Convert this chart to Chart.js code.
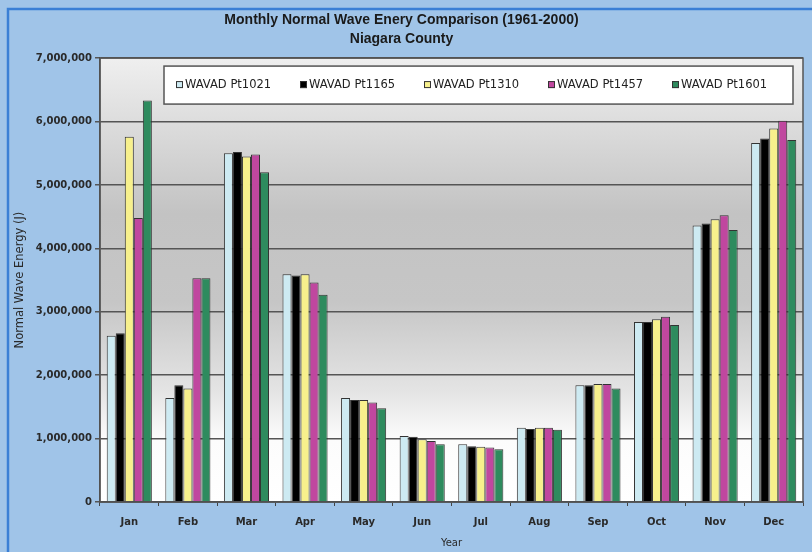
<!DOCTYPE html>
<html>
<head>
<meta charset="utf-8">
<script src="https://cdn.jsdelivr.net/npm/chart.js@4.4.1/dist/chart.umd.min.js"></script>
<style>
  html, body { margin: 0; padding: 0; background: #a0c4e8; }
  #wrap { width: 812px; height: 552px; }
</style>
</head>
<body>
<div id="wrap"><canvas id="waveChart" width="812" height="552"></canvas></div>
<script>
const months = ['Jan', 'Feb', 'Mar', 'Apr', 'May', 'Jun', 'Jul', 'Aug', 'Sep', 'Oct', 'Nov', 'Dec'];
const seriesNames = ['WAVAD Pt1021', 'WAVAD Pt1165', 'WAVAD Pt1310', 'WAVAD Pt1457', 'WAVAD Pt1601'];
const pt1021 = [2620000, 1640000, 5500000, 3590000, 1640000, 1040000, 910000, 1170000, 1840000, 2840000, 4360000, 5660000];
const pt1165 = [2660000, 1840000, 5520000, 3570000, 1610000, 1030000, 880000, 1150000, 1840000, 2840000, 4390000, 5730000];
const pt1310 = [5760000, 1790000, 5450000, 3590000, 1610000, 990000, 870000, 1170000, 1860000, 2880000, 4460000, 5890000];
const pt1457 = [4480000, 3530000, 5480000, 3460000, 1570000, 960000, 860000, 1170000, 1860000, 2920000, 4520000, 6010000];
const pt1601 = [6330000, 3530000, 5200000, 3270000, 1480000, 910000, 830000, 1140000, 1790000, 2790000, 4290000, 5710000];
const yMin = 0, yMax = 7000000, yStep = 1000000;

const colors = ['#cdeaf2', '#000000', '#f7f08c', '#c0479f', '#2e8b5e'];
const allSeries = [pt1021, pt1165, pt1310, pt1457, pt1601];

// panel background, frame, plot-area gradient
const panel = {
  id: 'panel',
  beforeDraw(chart) {
    const { ctx, chartArea: a, width, height } = chart;
    ctx.save();
    ctx.fillStyle = '#a0c4e8';
    ctx.fillRect(0, 0, width, height);
    ctx.strokeStyle = '#3a7fd5';
    ctx.lineWidth = 2.5;
    ctx.strokeRect(8, 9, width + 20, height + 20);
    const g = ctx.createLinearGradient(0, a.top, 0, a.bottom);
    g.addColorStop(0, '#efefef');
    g.addColorStop(0.35, '#c3c3c3');
    g.addColorStop(0.55, '#c6c6c6');
    g.addColorStop(0.75, '#e4e4e4');
    g.addColorStop(0.86, '#fcfcfc');
    g.addColorStop(1, '#ffffff');
    ctx.fillStyle = g;
    ctx.fillRect(a.left, a.top, a.right - a.left, a.bottom - a.top);
    ctx.restore();
  },
  afterDatasetsDraw(chart) {
    const { ctx, chartArea: a } = chart;
    ctx.save();
    ctx.strokeStyle = '#555';
    ctx.lineWidth = 1.5;
    ctx.strokeRect(a.left, a.top, a.right - a.left, a.bottom - a.top);
    ctx.restore();
  }
};

// Excel-style legend box sitting inside the plot area
const legendBox = {
  id: 'legendBox',
  afterDraw(chart) {
    const { ctx, chartArea: a } = chart;
    const x0 = a.left + 64, y0 = a.top + 8, w = a.right - a.left - 74, h = 38;
    ctx.save();
    ctx.fillStyle = '#ffffff';
    ctx.fillRect(x0, y0, w, h);
    ctx.strokeStyle = '#555';
    ctx.lineWidth = 1.5;
    ctx.strokeRect(x0, y0, w, h);
    ctx.font = '11.5px "DejaVu Sans", sans-serif';
    ctx.textBaseline = 'middle';
    const cy = y0 + h / 2;
    chart.data.datasets.forEach((ds, i) => {
      const bx = x0 + 12 + i * 124;
      ctx.fillStyle = ds.backgroundColor;
      ctx.fillRect(bx, cy - 4, 7, 7);
      ctx.strokeStyle = '#333';
      ctx.lineWidth = 1;
      ctx.strokeRect(bx + 0.5, cy - 3.5, 6, 6);
      ctx.fillStyle = '#222';
      ctx.fillText(ds.label, bx + 9, cy);
    });
    ctx.restore();
  }
};

const ctx = document.getElementById('waveChart').getContext('2d');
const chart = new Chart(ctx, {
  type: 'bar',
  data: {
    labels: months,
    datasets: seriesNames.map((name, i) => ({
      label: name,
      data: allSeries[i],
      backgroundColor: colors[i],
      borderColor: '#333',
      borderWidth: 1,
      categoryPercentage: 0.77,
      barPercentage: 1.0
    }))
  },
  options: {
    responsive: false,
    animation: false,
    layout: { padding: { left: 0, right: 9, top: 0, bottom: 0 } },
    plugins: {
      legend: { display: false },
      tooltip: { enabled: false },
      title: {
        display: true,
        text: ['Monthly Normal Wave Enery Comparison (1961-2000)', 'Niagara County'],
        color: '#1a1a1a',
        font: { family: '"Liberation Sans Narrow", "Arial Narrow", "Liberation Sans", sans-serif', size: 14, weight: 'bold', lineHeight: 1.36 },
        padding: { top: 11, bottom: 9 }
      }
    },
    scales: {
      x: {
        grid: { display: true, drawOnChartArea: false, drawTicks: true, tickLength: 4, color: '#444', offset: true },
        border: { display: true, color: '#444', width: 1.5 },
        ticks: { color: '#2a2a2a', font: { family: '"DejaVu Sans", sans-serif', size: 10, weight: 'bold' }, padding: 10 },
        title: { display: true, text: 'Year', color: '#2a2a2a', font: { family: '"DejaVu Sans", sans-serif', size: 10 }, padding: { top: 2, bottom: 3 } },
        afterFit(scale) { scale.height = 50; }
      },
      y: {
        min: yMin,
        max: yMax,
        grid: { color: '#555', lineWidth: 1.5, tickLength: 5, drawTicks: true },
        border: { display: true, color: '#444', width: 1.5 },
        ticks: {
          stepSize: yStep,
          color: '#2a2a2a',
          padding: 3,
          font: { family: '"DejaVu Sans", sans-serif', size: 10, weight: 'bold' },
          callback: v => Number(v).toLocaleString('en-US')
        },
        title: { display: true, text: 'Normal Wave Energy (J)', color: '#2a2a2a', font: { family: '"DejaVu Sans", sans-serif', size: 11.5 }, padding: { top: 13, bottom: 0 } },
        afterFit(scale) { scale.width = 100; }
      }
    }
  },
  plugins: [panel, legendBox]
});
</script>
</body>
</html>
